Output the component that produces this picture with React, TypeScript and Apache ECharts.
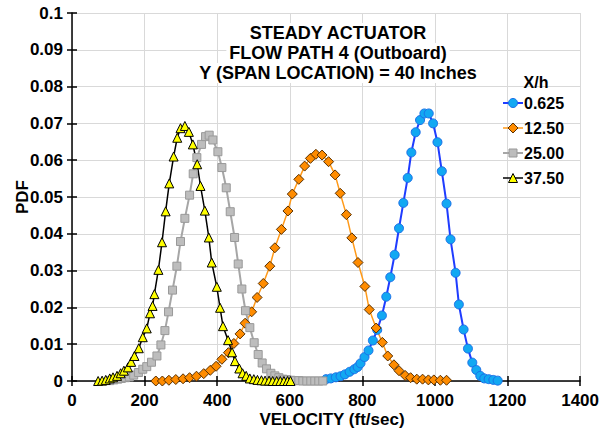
import React, { useEffect, useRef } from "react";
import * as echarts from "echarts";

const seriesNames = ["0.625", "12.50", "25.00", "37.50"];
const xTicks = { min: 0, max: 1400, interval: 200 };
const yTicks = { min: 0, max: 0.1, interval: 0.01 };
const titleLines = ["STEADY ACTUATOR", "FLOW PATH 4 (Outboard)", "Y (SPAN LOCATION) = 40 Inches"];
const legendTitle = "X/h";
const xAxisName = "VELOCITY (ft/sec)";
const yAxisName = "PDF";

// X/h = 0.625
const data0625: [number, number][] = [
  [700, 0.0005], [713, 0.0007], [727, 0.001], [740, 0.0013], [752, 0.0018], [765, 0.0025],
  [778, 0.0032], [787, 0.0038], [795, 0.0048], [806, 0.0065], [817, 0.0083], [829, 0.011],
  [841, 0.0139], [854, 0.0178], [866, 0.0229], [877, 0.0282], [889, 0.0343], [901, 0.0415],
  [913, 0.0484], [925, 0.0552], [935, 0.0621], [947, 0.0676], [959, 0.0709], [971, 0.0727],
  [983, 0.0727], [995, 0.07], [1007, 0.0649], [1019, 0.057], [1032, 0.0482], [1043, 0.0385],
  [1057, 0.0294], [1066, 0.0208], [1079, 0.014], [1091, 0.0088], [1103, 0.005], [1114, 0.003],
  [1125, 0.0014], [1136, 0.0007], [1148, 0.0005], [1161, 0.0003], [1173, 0.0001],
];

// X/h = 12.50
const data1250: [number, number][] = [
  [231, 0], [249, 0], [267, 0.0002], [286, 0.0004], [306, 0.0006], [324, 0.0009],
  [343, 0.0013], [363, 0.002], [381, 0.0029], [397, 0.004], [413, 0.0059], [431, 0.0077],
  [446, 0.0102], [463, 0.0128], [477, 0.0157], [495, 0.0188], [510, 0.0227], [527, 0.0265],
  [545, 0.0312], [559, 0.0362], [577, 0.0412], [595, 0.0462], [607, 0.0508], [625, 0.0548],
  [641, 0.0584], [657, 0.0605], [672, 0.0616], [689, 0.0614], [707, 0.0596], [725, 0.056],
  [739, 0.051], [756, 0.0452], [771, 0.0389], [788, 0.0322], [807, 0.0257], [819, 0.0194],
  [838, 0.0144], [855, 0.0105], [870, 0.0068], [887, 0.0044], [901, 0.0028], [918, 0.0015],
  [933, 0.0009], [950, 0.0005], [966, 0.0005], [982, 0.0003], [997, 0.0003], [1015, 0.0002],
  [1032, 0.0002],
];

// X/h = 25.00
const data2500: [number, number][] = [
  [104, 0.0001], [115, 0.0003], [126, 0.0005], [136, 0.0007], [147, 0.0009], [158, 0.0011],
  [170, 0.0016], [183, 0.0023], [195, 0.0032], [206, 0.0039], [219, 0.0051], [234, 0.0068],
  [245, 0.0098], [256, 0.0137], [266, 0.0188], [277, 0.0247], [289, 0.0312], [299, 0.0379],
  [311, 0.0442], [324, 0.0505], [334, 0.0563], [344, 0.0607], [357, 0.0643], [368, 0.0664],
  [378, 0.0668], [388, 0.0655], [402, 0.0623], [413, 0.058], [425, 0.0525], [436, 0.046],
  [448, 0.039], [458, 0.0318], [468, 0.025], [478, 0.0191], [490, 0.0145], [502, 0.0104],
  [513, 0.0072], [524, 0.0049], [536, 0.0033], [548, 0.0021], [559, 0.0014], [570, 0.0009],
  [581, 0.0005], [592, 0.0004], [603, 0.0002], [614, 0.0001], [625, 0.0001], [636, 0],
  [647, 0], [658, 0], [669, 0], [680, 0], [691, 0],
];

// X/h = 37.50
const data3750: [number, number][] = [
  [72, 0], [83, 0.0001], [93, 0.0003], [104, 0.0007], [113, 0.001], [124, 0.0014],
  [134, 0.0021], [143, 0.0028], [154, 0.0037], [163, 0.0052], [172, 0.0068], [184, 0.0089],
  [195, 0.0119], [206, 0.0143], [215, 0.0184], [222, 0.0204], [227, 0.0236], [238, 0.0302],
  [248, 0.0377], [258, 0.0461], [268, 0.0537], [280, 0.061], [290, 0.0661], [299, 0.0687],
  [311, 0.0693], [322, 0.0677], [333, 0.0643], [345, 0.0589], [354, 0.053], [366, 0.0463],
  [377, 0.039], [385, 0.0322], [399, 0.0256], [408, 0.0199], [416, 0.0149], [430, 0.0111],
  [441, 0.0078], [449, 0.0054], [461, 0.0034], [470, 0.0021], [480, 0.0014], [490, 0.0007],
  [501, 0.0005], [511, 0.0003], [522, 0.0002], [532, 0.0001], [543, 0.0001], [553, 0],
  [564, 0], [574, 0], [584, 0], [594, 0], [602, 0],
];

const FONT = "Liberation Sans, Arial, sans-serif";

const styles = [
  { symbol: "circle", size: 9, line: "#1f3cff", lw: 2, fill: "#12a8f2", border: "#1a6fe8" },
  { symbol: "diamond", size: 10, line: "#ff9a1a", lw: 1.5, fill: "#ff8c00", border: "#5a3000" },
  { symbol: "rect", size: 8, line: "#a6a6a6", lw: 2, fill: "#bdbdbd", border: "#999999" },
  { symbol: "triangle", size: 9, line: "#000000", lw: 1.5, fill: "#ffff00", border: "#000000" },
];

function legendMarker(kind: string, cx: number, cy: number, s: number, fill: string, stroke: string) {
  const style = { fill, stroke, lineWidth: 1 };
  const h = s / 2;
  if (kind === "circle") return { type: "circle", z: 50, shape: { cx, cy, r: h }, style };
  if (kind === "rect") return { type: "rect", z: 50, shape: { x: cx - h, y: cy - h, width: s, height: s }, style };
  if (kind === "diamond")
    return { type: "polygon", z: 50, shape: { points: [[cx, cy - h], [cx + h, cy], [cx, cy + h], [cx - h, cy]] }, style };
  return { type: "polygon", z: 50, shape: { points: [[cx, cy - h], [cx + h, cy + h], [cx - h, cy + h]] }, style };
}

export default function App() {
  const ref = useRef<HTMLDivElement>(null);
  useEffect(() => {
    if (!ref.current) return;
    const chart = echarts.init(ref.current, null, { renderer: "svg" });
    const labelStyle = { fontFamily: FONT, fontWeight: "bold" as const, fontSize: 17, color: "#000" };
    const baseX = { type: "value" as const, min: xTicks.min, max: xTicks.max, interval: xTicks.interval, position: "bottom" as const };
    const baseY = { type: "value" as const, min: yTicks.min, max: yTicks.max, interval: yTicks.interval, position: "left" as const };
    const legendItems: any[] = [];
    seriesNames.forEach((n, i) => {
      const st = styles[i];
      const cy = 103 + i * 25;
      legendItems.push({ type: "line", z: 49, shape: { x1: 503, y1: cy, x2: 523, y2: cy }, style: { stroke: st.line, lineWidth: st.lw } });
      legendItems.push(legendMarker(st.symbol, 513, cy, st.size, st.fill, st.border));
      legendItems.push({
        type: "text", x: 524, y: cy, z: 50,
        style: { text: n, font: `bold 16px ${FONT}`, fill: "#000", align: "left", verticalAlign: "middle" },
      });
    });
    chart.setOption({
      animation: false,
      backgroundColor: "#fff",
      grid: { left: 72, right: 17, top: 13, bottom: 55, containLabel: false },
      xAxis: [
        {
          ...baseX,
          axisLine: { show: true, lineStyle: { color: "#000", width: 1.5 } },
          axisTick: { show: true, length: 5, lineStyle: { color: "#000", width: 1.5 } },
          axisLabel: { ...labelStyle, margin: 11, formatter: (v: number) => String(v) },
          splitLine: { show: true, lineStyle: { color: "#d9d9d9", width: 1 } },
        },
        {
          ...baseX,
          axisLine: { show: false },
          axisTick: { show: true, inside: true, length: 5, lineStyle: { color: "#000", width: 1.5 } },
          axisLabel: { show: false },
          splitLine: { show: false },
        },
      ],
      yAxis: [
        {
          ...baseY,
          axisLine: { show: true, lineStyle: { color: "#000", width: 1.5 } },
          axisTick: { show: true, length: 5, lineStyle: { color: "#000", width: 1.5 } },
          axisLabel: { ...labelStyle, margin: 9 },
          splitLine: { show: true, lineStyle: { color: "#d9d9d9", width: 1 } },
        },
        {
          ...baseY,
          axisLine: { show: false },
          axisTick: { show: true, inside: true, length: 5, lineStyle: { color: "#000", width: 1.5 } },
          axisLabel: { show: false },
          splitLine: { show: false },
        },
      ],
      graphic: [
        ...titleLines.map((t, i) => ({
          type: "text",
          x: 338,
          y: 33 + i * 20,
          z: 50,
          style: {
            text: t, font: `bold 18px ${FONT}`, fill: "#000", align: "center", verticalAlign: "middle",
            backgroundColor: "#fff", padding: [1, 3, 1, 3],
          },
        })),
        {
          type: "text", x: 536, y: 82, z: 50,
          style: { text: legendTitle, font: `bold 16px ${FONT}`, fill: "#000", align: "center", verticalAlign: "middle" },
        },
        ...legendItems,
        {
          type: "text", x: 332, y: 419,
          style: { text: xAxisName, font: `bold 17px ${FONT}`, fill: "#000", align: "center", verticalAlign: "middle" },
        },
        {
          type: "text", x: 22, y: 197, rotation: Math.PI / 2,
          style: { text: yAxisName, font: `bold 17px ${FONT}`, fill: "#000", align: "center", verticalAlign: "middle" },
        },
      ],
      series: seriesNames.map((n, i) => ({
        name: n,
        type: "line",
        data: [data0625, data1250, data2500, data3750][i],
        symbol: styles[i].symbol,
        symbolSize: styles[i].size,
        lineStyle: { color: styles[i].line, width: styles[i].lw },
        itemStyle: { color: styles[i].fill, borderColor: styles[i].border, borderWidth: 1 },
      })),
    });
    return () => chart.dispose();
  }, []);
  return <div ref={ref} style={{ position: "absolute", left: 0, top: 0, width: 602, height: 436 }} />;
}
